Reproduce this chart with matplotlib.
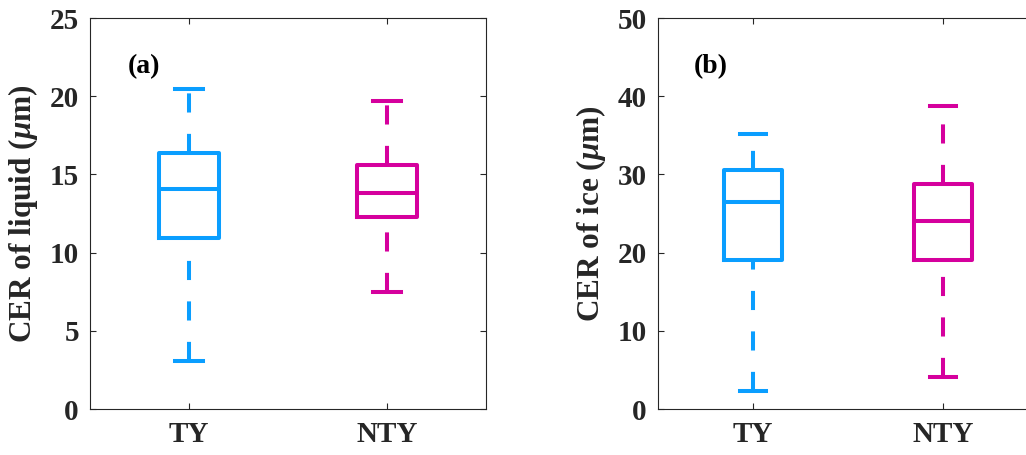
import matplotlib
matplotlib.use("Agg")
import matplotlib.pyplot as plt

plt.rcParams['font.family'] = ['Liberation Serif', 'DejaVu Serif']
plt.rcParams['font.weight'] = 'bold'
plt.rcParams['mathtext.fontset'] = 'custom'
plt.rcParams['mathtext.rm'] = 'Liberation Serif:bold'
plt.rcParams['mathtext.it'] = 'Liberation Serif:italic:bold'

# ---- data ----
categories = ['TY', 'NTY']
colors = ['#0A9EFF', '#D5009D']

liq_whislo = [3.1, 7.45]
liq_q1 = [10.95, 12.25]
liq_med = [14.05, 13.8]
liq_q3 = [16.35, 15.6]
liq_whishi = [20.45, 19.7]

ice_whislo = [2.3, 4.15]
ice_q1 = [19.1, 19.0]
ice_med = [26.5, 24.0]
ice_q3 = [30.55, 28.8]
ice_whishi = [35.2, 38.8]

panel_labels = ['(a)', '(b)']
ylabels = [r'CER of liquid ($\mu$m)', r'CER of ice ($\mu$m)']
yticks_list = [[0, 5, 10, 15, 20, 25], [0, 10, 20, 30, 40, 50]]
ylims = [(0, 25), (0, 50)]

W, H = 1026, 455
fig = plt.figure(figsize=(W / 100, H / 100), dpi=100)
axc = '#262626'

positions_px = [(90, 486), (658, 1038)]
top_px, bot_px = 18, 409

datasets = [
    (liq_whislo, liq_q1, liq_med, liq_q3, liq_whishi),
    (ice_whislo, ice_q1, ice_med, ice_q3, ice_whishi),
]

for i, (x0, x1) in enumerate(positions_px):
    ax = fig.add_axes([x0 / W, (H - bot_px) / H, (x1 - x0) / W, (bot_px - top_px) / H])
    lo, q1, med, q3, hi = datasets[i]
    stats = []
    for k in range(len(categories)):
        stats.append(dict(whislo=lo[k], q1=q1[k], med=med[k], q3=q3[k], whishi=hi[k],
                          fliers=[], label=categories[k]))
    bp = ax.bxp(stats, positions=[1, 2], widths=0.305, capwidths=0.137,
                showfliers=False, patch_artist=False)
    lw = 2.9
    for k, c in enumerate(colors):
        bp['boxes'][k].set(color=c, linewidth=lw)
        bp['medians'][k].set(color=c, linewidth=lw)
        for w in bp['whiskers'][2 * k:2 * k + 2]:
            xd, yd = w.get_data()
            if yd[0] > yd[1]:
                w.set_data(xd[::-1], yd[::-1])
            w.set(color=c, linewidth=lw, linestyle=(0, (4.75, 5.3)), dash_capstyle='butt')
        for cp in bp['caps'][2 * k:2 * k + 2]:
            cp.set(color=c, linewidth=lw)
    ax.set_xlim(0.5, 2.5)
    ax.set_ylim(*ylims[i])
    ax.set_yticks(yticks_list[i])
    ax.set_xticks([1, 2])
    ax.set_xticklabels(categories)
    for s in ax.spines.values():
        s.set_color(axc)
        s.set_linewidth(0.8)
    ax.tick_params(direction='in', length=4, width=0.8, color=axc, labelcolor=axc,
                   top=True, right=True, labelsize=21)
    ax.tick_params(axis='y', pad=8)
    ax.tick_params(axis='x', pad=9)
    ax.set_ylabel(ylabels[i], fontsize=22.5, fontweight='bold', color=axc, labelpad=7)
    ax.text(0.69, ylims[i][1] * 0.876, panel_labels[i], fontsize=20, fontweight='bold',
            color='black', va='center', ha='left')

fig.savefig('out.png', dpi=100)
